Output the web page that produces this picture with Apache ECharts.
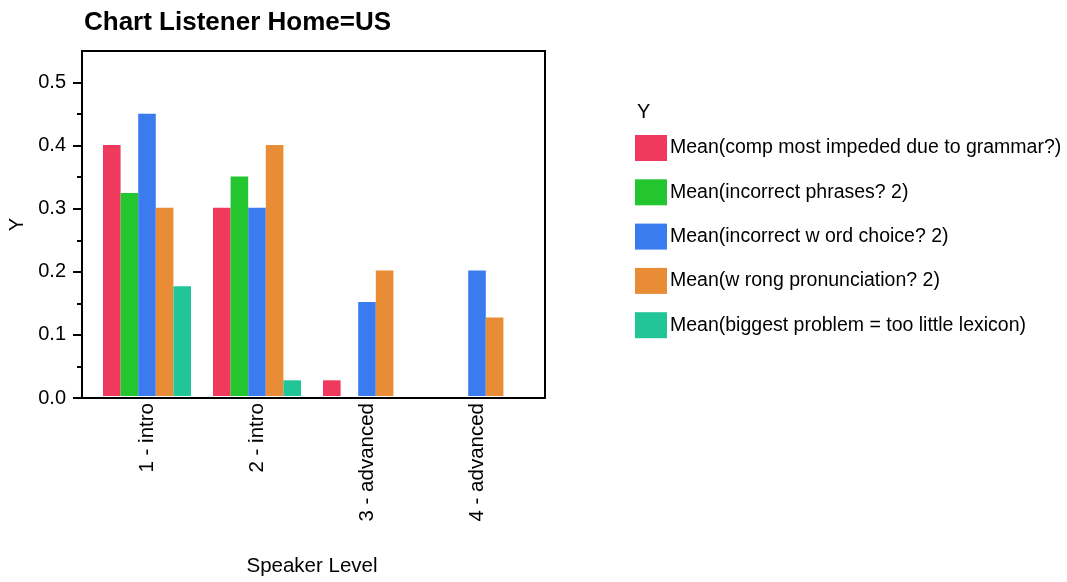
<!DOCTYPE html>
<html>
<head>
<meta charset="utf-8">
<script src="https://cdn.jsdelivr.net/npm/echarts@6/dist/echarts.min.js"></script>
<style>html,body{margin:0;padding:0;background:#fff}#c{width:1067px;height:582px}</style>
</head>
<body>
<div id="c"></div>
<script>
const categories = ['1 - intro', '2 - intro', '3 - advanced', '4 - advanced'];
const seriesNames = [
  'Mean(comp most impeded due to grammar?)',
  'Mean(incorrect phrases? 2)',
  'Mean(incorrect w ord choice? 2)',
  'Mean(w rong pronunciation? 2)',
  'Mean(biggest problem = too little lexicon)'
];
const grammar = [0.4, 0.3, 0.025, null];
const phrases = [0.3235, 0.35, null, null];
const wordChoice = [0.45, 0.3, 0.15, 0.2];
const pronunciation = [0.3, 0.4, 0.2, 0.125];
const lexicon = [0.175, 0.025, null, null];
const colors = ['#EF3A5D', '#24C630', '#3B7BF0', '#E88D36', '#22C598'];
const yTicks = [0, 0.1, 0.2, 0.3, 0.4, 0.5];
const yMinorTicks = [0.05, 0.15, 0.25, 0.35, 0.45];

const allValues = [grammar, phrases, wordChoice, pronunciation, lexicon];
const FONT = 'Liberation Sans, Arial, sans-serif';

const chart = echarts.init(document.getElementById('c'), null, {renderer: 'canvas'});
chart.setOption({
  animation: false,
  title: [
    {text: 'Chart Listener Home=US', left: 79, top: 5,
     textStyle: {fontFamily: FONT, fontSize: 26, fontWeight: 'bold', color: '#000'}},
    {text: 'Y', left: 632, top: 97,
     textStyle: {fontFamily: FONT, fontSize: 20, fontWeight: 'normal', color: '#000'}}
  ],
  legend: {
    orient: 'vertical', left: 630, top: 130,
    itemWidth: 32, itemHeight: 26, itemGap: 18.3,
    icon: 'rect',
    textStyle: {fontFamily: FONT, fontSize: 19.5, color: '#000', padding: [0, 0, 0, -2]},
    data: seriesNames
  },
  grid: [
    {left: 82, top: 51, width: 463, height: 347, show: true, borderColor: '#000', borderWidth: 2, backgroundColor: 'transparent'},
    {left: 92, top: 51, width: 440, height: 347}
  ],
  xAxis: [
    {gridIndex: 0, type: 'value', show: false, min: 0, max: 1},
    {gridIndex: 1, type: 'category', data: categories,
     name: 'Speaker Level', nameLocation: 'middle', nameGap: 160,
     nameTextStyle: {fontFamily: FONT, fontSize: 20.5, color: '#000'},
     axisLine: {show: false}, axisTick: {show: false},
     axisLabel: {rotate: 90, margin: 7, fontFamily: FONT, fontSize: 20.5, color: '#000'}}
  ],
  yAxis: [
    {gridIndex: 0, type: 'value', min: 0, max: 0.55,
     name: 'Y', nameLocation: 'middle', nameGap: 55, nameRotate: 90,
     nameTextStyle: {fontFamily: FONT, fontSize: 20, color: '#000'},
     axisLine: {show: true, lineStyle: {color: '#000', width: 2}},
     axisTick: {show: true, length: 9, customValues: yTicks, lineStyle: {color: '#000', width: 2}},
     splitLine: {show: false},
     axisLabel: {margin: 16, fontFamily: FONT, fontSize: 20, color: '#000',
       customValues: yTicks, formatter: v => v.toFixed(1)}},
    {gridIndex: 0, type: 'value', min: 0, max: 0.55, position: 'left', offset: 0,
     axisLine: {show: false},
     axisTick: {show: true, length: 5, customValues: yMinorTicks, lineStyle: {color: '#000', width: 2}},
     axisLabel: {show: false}, splitLine: {show: false}},
    {gridIndex: 1, type: 'value', min: 0, max: 0.55, show: false, splitLine: {show: false}}
  ],
  series: seriesNames.map((name, i) => ({
    name: name, type: 'bar', xAxisIndex: 1, yAxisIndex: 2,
    data: allValues[i], barGap: 0, barCategoryGap: '20%',
    itemStyle: {color: colors[i]}
  }))
});
</script>
</body>
</html>
